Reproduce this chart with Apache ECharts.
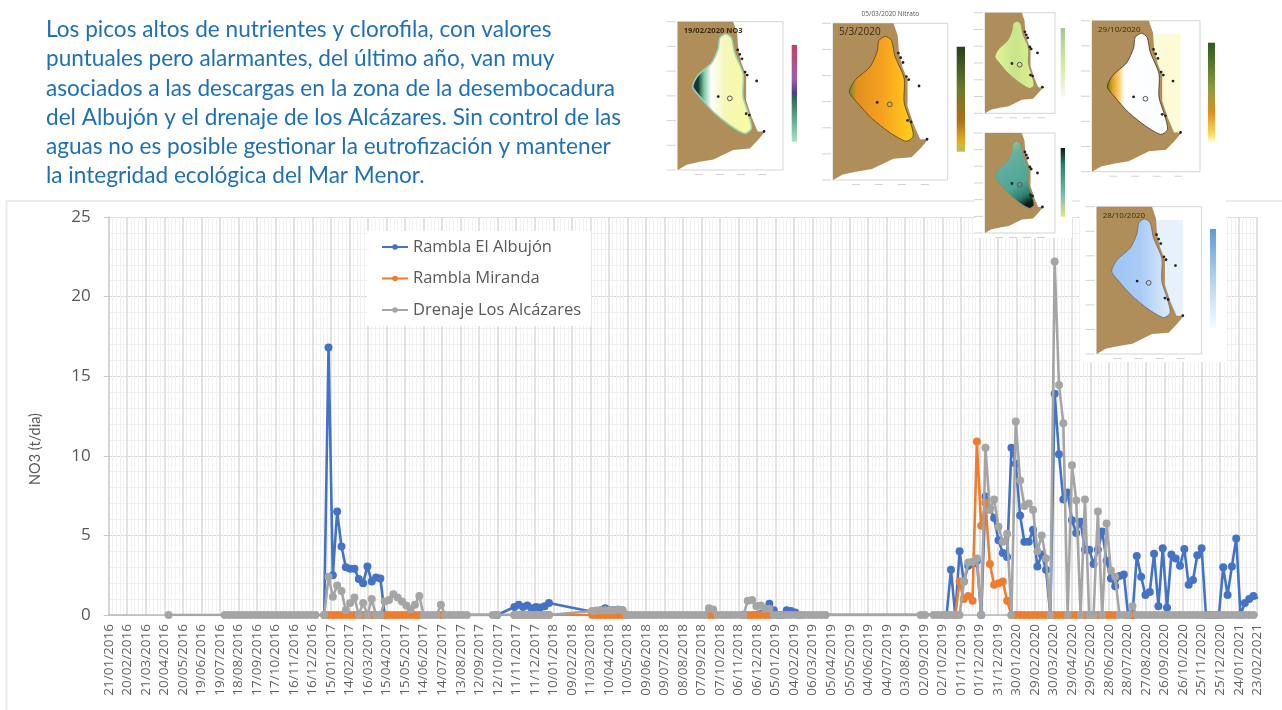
<!DOCTYPE html>
<html lang="es">
<head>
    <meta charset="UTF-8">
    <title>NO3</title>
    <style>
        html,body{margin:0;padding:0;background:#fff;}
        #mychart{width:1282px;height:710px;filter:blur(0.5px);}
    </style>
</head>
<body>
    <div id="mychart"></div>
    <script src="https://cdnjs.cloudflare.com/ajax/libs/echarts/6.0.0/echarts.min.js"></script>
    <script>
        const _=null
        var headline=[
            'Los picos altos de nutrientes y clorofila, con valores',
            'puntuales pero alarmantes, del último año, van muy',
            'asociados a las descargas en la zona de la desembocadura',
            'del Albujón y el drenaje de los Alcázares. Sin control de las',
            'aguas no es posible gestionar la eutrofización y mantener',
            'la integridad ecológica del Mar Menor.'
        ]
        var tickLabels=[
            '21/01/2016','20/02/2016','21/03/2016','20/04/2016','20/05/2016','19/06/2016','19/07/2016','18/08/2016','17/09/2016',
            '17/10/2016','16/11/2016','16/12/2016','15/01/2017','14/02/2017','16/03/2017','15/04/2017','15/05/2017','14/06/2017',
            '14/07/2017','13/08/2017','12/09/2017','12/10/2017','11/11/2017','11/12/2017','10/01/2018','09/02/2018','11/03/2018',
            '10/04/2018','10/05/2018','09/06/2018','09/07/2018','08/08/2018','07/09/2018','07/10/2018','06/11/2018','06/12/2018',
            '05/01/2019','04/02/2019','06/03/2019','05/04/2019','05/05/2019','04/06/2019','04/07/2019','03/08/2019','02/09/2019',
            '02/10/2019','01/11/2019','01/12/2019','31/12/2019','30/01/2020','29/02/2020','30/03/2020','29/04/2020','29/05/2020',
            '28/06/2020','28/07/2020','27/08/2020','26/09/2020','26/10/2020','25/11/2020','25/12/2020','24/01/2021','23/02/2021'
        ]
        //muestreo semanal: dias desde 21/01/2016
        var firstSampleDay=6
        var sampleStepDays=7
        //10 valores por linea
        var albujon=[
            _,_,_,_,_,_,_,_,_,_,
            _,_,_,_,_,_,_,_,_,_,
            _,_,_,_,_,_,_,_,_,_,
            _,_,_,_,_,_,_,_,_,_,
            _,_,_,_,_,_,_,_,_,0,
            16.8,2.5,6.5,4.3,3.0,2.9,2.9,2.26,2.0,3.05,
            2.1,2.35,2.3,0,_,_,_,_,_,_,
            _,_,_,_,_,_,_,_,_,_,
            _,_,_,_,_,_,_,_,_,0,
            _,_,_,.5,.65,.5,.6,.42,.5,.47,
            .55,.75,_,_,_,_,_,_,_,_,
            _,.2,.25,.3,.42,.3,.3,.3,.3,0,
            _,_,_,_,_,_,_,_,_,_,
            _,_,_,_,_,_,_,_,_,_,
            _,_,_,_,_,_,0,_,_,_,
            _,.3,.7,.3,0,0,.3,.25,.15,0,
            _,_,_,_,_,_,_,_,_,_,
            _,_,_,_,_,_,_,_,_,_,
            _,_,_,_,_,_,_,_,_,_,
            _,_,_,0,2.85,0,4.0,2.1,3.1,3.2,
            3.4,0,7.45,6.7,6.1,4.7,3.9,3.65,10.5,9.5,
            6.25,4.6,4.6,5.35,3.05,3.8,2.85,0,13.9,10.1,
            7.25,7.7,5.95,5.15,5.85,4.1,4.1,3.2,4.1,5.25,
            3.4,2.3,1.8,2.45,2.55,0,0,3.7,2.4,1.25,
            1.45,3.85,.55,4.2,.45,3.8,3.55,3.1,4.15,1.9,
            2.2,3.75,4.2,0,0,0,0,3.0,1.25,3.05,
            4.8,0,.75,1.0,1.2,1.05
        ]
        var miranda=[
            _,_,_,_,_,_,_,_,_,_,
            _,_,_,_,_,_,_,_,_,_,
            _,_,_,_,_,_,_,_,_,_,
            _,_,_,_,_,_,_,_,_,_,
            _,_,_,_,_,_,_,_,_,_,
            0,0,0,0,0,0,0,0,0,0,
            0,0,0,0,0,0,0,0,0,0,
            0,0,_,_,_,_,0,_,_,_,
            _,_,_,_,_,_,_,_,_,_,
            _,_,_,0,0,0,0,0,0,0,
            0,0,_,_,_,_,_,_,_,_,
            _,0,0,0,0,0,0,0,0,_,
            _,_,_,_,_,_,_,_,_,_,
            _,_,_,_,_,_,_,_,0,0,
            _,_,_,_,_,_,_,0,0,0,
            0,0,0,_,_,_,_,_,_,_,
            _,_,_,_,_,_,_,_,_,_,
            _,_,_,_,_,_,_,_,_,_,
            _,_,_,_,_,_,_,_,_,_,
            _,_,_,_,_,0,2.1,1.0,1.2,.9,
            10.9,5.6,7.05,3.2,1.9,2.0,2.1,.9,0,0,
            0,0,0,0,0,0,0,0,0,0,
            0,0,0,0,0,0,0,0,0,0,
            0,0,0,_,_,_,0
        ]
        var alcazares=[
            _,_,_,_,_,_,_,_,_,_,
            _,_,_,0,_,_,_,_,_,_,
            _,_,_,_,_,_,0,0,0,0,
            0,0,0,0,0,0,0,0,0,0,
            0,0,0,0,0,0,0,0,_,0,
            2.4,1.15,1.85,1.5,.3,.75,1.1,0,.75,0,
            1.0,0,0,.85,.95,1.3,1.1,.85,.6,.35,
            .65,1.2,0,0,0,0,.65,0,0,0,
            0,0,0,_,_,_,_,_,0,0,
            _,_,_,0,0,0,0,0,0,0,
            0,0,_,_,_,_,_,_,_,_,
            _,.25,.28,.3,.3,.3,.3,.35,.3,0,
            0,0,0,0,0,0,0,0,0,0,
            0,0,0,0,0,0,0,0,.42,.35,
            0,0,0,0,0,0,0,.9,.95,.55,
            .6,.4,.4,0,0,0,0,0,0,0,
            0,0,0,0,0,0,_,_,_,_,
            _,_,_,_,_,_,_,_,_,_,
            _,_,_,_,_,_,_,0,0,_,
            0,0,0,0,0,0,0,2.1,3.3,3.35,
            3.55,0,10.5,6.6,7.25,5.55,4.6,5.1,0,12.15,
            8.45,6.85,7.0,6.6,4.0,5.0,3.55,0,22.2,14.45,
            12.05,0,9.4,7.2,0,7.25,0,0,6.5,0,
            5.75,2.8,2.4,0,0,0,.55,0,0,0,
            0,0,0,0,0,0,0,0,0,0,
            0,0,0,0,0,0,0,0,0,0,
            0,0,0,0,0,0
        ]
        var seriesNames=['Rambla El Albujón','Rambla Miranda','Drenaje Los Alcázares']
        var seriesColors=['#4472C4','#ED7D31','#A5A5A5']

        //contornos de la laguna para las miniaturas, en fraccion del marco
        var landOutline=[[0,0],[.527,0],[.565,.08],[.575,.19],[.606,.28],[.65,.36],[.65,.53],[.70,.64],[.76,.74],[.83,.74],[.76,.80],[.685,.855],[.527,.865],[.34,.93],[.21,.945],[.085,.965],[0,1]]
        var lagoonOutline=[[.457,.083],[.51,.11],[.54,.21],[.62,.35],[.62,.505],[.67,.62],[.70,.72],[.637,.753],[.495,.697],[.338,.607],[.21,.505],[.142,.438],[.195,.36],[.32,.28],[.385,.18],[.40,.11]]
        var darkSpots=[[.57,.19],[.59,.22],[.61,.25],[.64,.34],[.66,.36],[.75,.40],[.65,.62],[.68,.63],[.82,.74],[.385,.505]]
        var mapThumbs=[
            {box:[677.7,21.7,105.3,148.3],date:'19/02/2020 NO3',dateSize:7.5,dateBold:true,stroke:'#9ad6b6',strokeWidth:1.5,
             lagoon:[[0,'#4b1a78'],[.1,'#0b3a28'],[.2,'#7cc7a0'],[.32,'#ffffff'],[.55,'#f4f7b8'],[1,'#fbfb9e']],
             bar:[791.7,45,5.3,96.7],barStops:[[0,'#c9405a'],[.35,'#9a5fb5'],[.5,'#4a3f8a'],[.55,'#2e6b5c'],[1,'#a6e6c6']]},
            {box:[833,23.3,114.7,156.7],title:'05/03/2020 Nitrato',date:'5/3/2020',dateSize:10,
             lagoon:[[0,'#5f8f2a'],[.12,'#e0901f'],[.5,'#f5a020'],[.85,'#ffc21a'],[1,'#f7d21a']],stroke:'#5a3d10',
             bar:[956.7,46.7,8.3,105],barStops:[[0,'#26401c'],[.4,'#6b7a2a'],[.7,'#a8701c'],[.9,'#e0b020'],[1,'#b8c060']]},
            {box:[985,12.7,70,100.6],
             lagoon:[[0,'#e2f29a'],[.5,'#c8e58c'],[1,'#dff08e']],
             bar:[1060.7,28,4.3,68.7],barStops:[[0,'#9cc99a'],[.5,'#d4e8a0'],[1,'#f8f8e8']]},
            {box:[985,133,70,100],gradDiag:true,
             lagoon:[[0,'#b4d490'],[.3,'#66b0a0'],[.7,'#4fa597'],[.88,'#2c7d70'],[1,'#06201a']],
             bar:[1060.7,148,4.3,68.7],barStops:[[0,'#06201a'],[.25,'#2c8070'],[.7,'#7cc0a8'],[1,'#e0e880']]},
            {box:[1092,20.7,108,151],date:'29/10/2020',dateSize:8,sea:'#fdfbd6',
             lagoon:[[0,'#3f7a20'],[.08,'#e09a18'],[.2,'#fbd070'],[.28,'#ffffff'],[1,'#fafcff']],stroke:'#3a3320',
             bar:[1208,42.7,7,100.6],barStops:[[0,'#2e5a1c'],[.45,'#8a9a40'],[.7,'#e0901c'],[.92,'#f8e060'],[1,'#ffffff']]},
            {box:[1096.7,206.7,105,147.3],date:'28/10/2020',dateSize:8,sea:'#e6f2fb',
             lagoon:[[0,'#9cc4f4'],[.5,'#a9ccf6'],[.85,'#d0e2fa'],[1,'#dceafb']],stroke:'#6a6a6a',
             bar:[1210,229,6,99],barStops:[[0,'#5b9bd8'],[.5,'#b0d2ee'],[1,'#f6fbff']]}
        ]

        var myChart=echarts.init(document.getElementById('mychart'))

        function thumb(m){
            let x=m.box[0],y=m.box[1],w=m.box[2],h=m.box[3]
            let pts=(list)=>list.map(p=>[x+p[0]*w,y+p[1]*h])
            let stops=(list)=>list.map(s=>({offset:s[0],color:s[1]}))
            let els=[]
            els.push({type:'rect',z:21,shape:{x:x,y:y,width:w,height:h},style:{fill:'#fff',stroke:'#d4d4d4',lineWidth:1}})
            if (m.sea) {//franja de mar con dato
                els.push({type:'rect',z:21,shape:{x:x+.55*w,y:y+.09*h,width:.27*w,height:.66*h},style:{fill:m.sea}})
            }
            els.push({type:'polygon',z:22,shape:{points:pts(landOutline)},style:{fill:'#B08E5A'}})
            els.push({type:'polygon',z:23,shape:{points:pts(lagoonOutline),smooth:.25},style:{
                fill:{type:'linear',x:0,y:0,x2:m.gradDiag?.9:1,y2:m.gradDiag?.9:0,colorStops:stops(m.lagoon)},
                stroke:m.stroke||'#9a8a60',lineWidth:m.strokeWidth||.8
            }})
            darkSpots.forEach(p=>{
                els.push({type:'circle',z:24,shape:{cx:x+p[0]*w,cy:y+p[1]*h,r:1.4},style:{fill:'#222'}})
            })
            //isla del Baron
            els.push({type:'circle',z:24,shape:{cx:x+.495*w,cy:y+.517*h,r:2.4},style:{fill:'none',stroke:'#555',lineWidth:1}})
            //marcas de los ejes de la miniatura
            for(let i=0;i<7;i++){
                els.push({type:'rect',z:24,shape:{x:x-11,y:y+h*i/6-.5,width:9,height:1},style:{fill:'#d2d2d2'}})
            }
            for(let i=1;i<5;i++){
                els.push({type:'rect',z:24,shape:{x:x+w*i/5-4,y:y+h+4,width:8,height:1},style:{fill:'#d2d2d2'}})
            }
            els.push({type:'rect',z:24,shape:{x:m.bar[0],y:m.bar[1],width:m.bar[2],height:m.bar[3]},style:{
                fill:{type:'linear',x:0,y:0,x2:0,y2:1,colorStops:stops(m.barStops)}
            }})
            if (m.title) {
                els.push({type:'text',z:25,style:{x:x+w/2,y:y-9,text:m.title,align:'center',verticalAlign:'middle',fill:'#555',font:'6.5px "Open Sans"'}})
            }
            if (m.date) {
                els.push({type:'text',z:25,style:{x:x+6,y:y+9,text:m.date,align:'left',verticalAlign:'middle',fill:'#3a2a10',font:(m.dateBold?'bold ':'')+m.dateSize+'px "Open Sans"'}})
            }
            return els
        }

        var graphics=[]
        //marco gris de la diapositiva del grafico
        graphics.push({type:'rect',z:0,shape:{x:6.5,y:201,width:1290,height:520},style:{fill:'none',stroke:'#ebebeb',lineWidth:2}})
        headline.forEach((line,i)=>{
            graphics.push({type:'text',z:30,style:{x:46,y:30+i*29.2,text:line,align:'left',verticalAlign:'middle',fill:'#1F70B6',font:'22.6px Lato'}})
        })
        //fondos blancos de las miniaturas, tapan la rejilla
        graphics.push({type:'rect',z:20,shape:{x:975,y:0,width:97,height:238},style:{fill:'#fff'}})
        graphics.push({type:'rect',z:20,shape:{x:1080,y:197,width:146,height:165},style:{fill:'#fff'}})
        mapThumbs.forEach(m=>{graphics=graphics.concat(thumb(m))})

        function toPoints(values){
            let out=[]
            values.forEach((v,i)=>{
                if (v!==null) {
                    out.push([firstSampleDay+i*sampleStepDays,v])
                }
            })
            return out
        }
        function lineSeries(i,values){
            return {
                name:seriesNames[i],
                type:'line',
                data:toPoints(values),
                connectNulls:true,
                symbol:'circle',
                symbolSize:8,
                showSymbol:true,
                showAllSymbol:true,
                lineStyle:{color:seriesColors[i],width:2.6},
                itemStyle:{color:seriesColors[i]},
                z:3+i
            }
        }

        option={
            animation:false,
            backgroundColor:'#fff',
            textStyle:{fontFamily:'"Open Sans"'},
            grid:{left:108.7,top:217,width:1148.5,height:398},
            legend:{
                orient:'vertical',
                left:367,
                top:231,
                padding:[7,10,7,14],
                backgroundColor:'#fff',
                itemWidth:26,
                itemHeight:7,
                itemGap:13.5,
                textStyle:{color:'#595959',fontSize:16.5,fontFamily:'"Open Sans"',lineHeight:18},
                data:seriesNames
            },
            xAxis:{
                type:'value',
                min:0,
                max:1860,
                interval:30,
                axisLine:{show:true,lineStyle:{color:'#b8b8b8',width:1.5}},
                axisTick:{show:false},
                axisLabel:{
                    rotate:90,
                    margin:9,
                    color:'#626262',
                    fontSize:13.5,
                    hideOverlap:false,
                    showMinLabel:true,
                    showMaxLabel:true,
                    formatter:(v)=>tickLabels[v/30]
                },
                splitLine:{show:true,lineStyle:{color:'#d9d9d9',width:1.5}},
                minorSplitLine:{show:true,lineStyle:{color:'#f1f1f1',width:1}},
                minorTick:{show:false,splitNumber:5}
            },
            yAxis:{
                type:'value',
                min:0,
                max:25,
                interval:5,
                name:'NO3 (t/dia)',
                nameLocation:'middle',
                nameGap:66,
                nameTextStyle:{color:'#595959',fontSize:14.5,fontFamily:'Lato',padding:[0,66,0,0]},
                axisLine:{show:true,lineStyle:{color:'#d0d0d0',width:1.5}},
                axisTick:{show:true,length:5,lineStyle:{color:'#c8c8c8'}},
                axisLabel:{color:'#595959',fontSize:17,margin:18},
                splitLine:{show:true,lineStyle:{color:'#d9d9d9',width:1}},
                minorSplitLine:{show:true,lineStyle:{color:'#efefef',width:1}},
                minorTick:{show:false,splitNumber:5}
            },
            series:[
                lineSeries(0,albujon),
                lineSeries(1,miranda),
                lineSeries(2,alcazares)
            ],
            graphic:{elements:graphics}
        }
        myChart.setOption(option)
    </script>
</body>
</html>
